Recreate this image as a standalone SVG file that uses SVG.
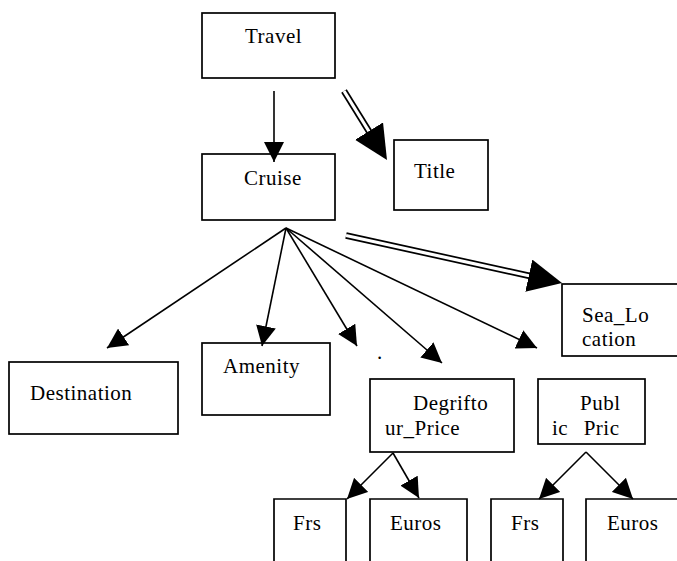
<svg xmlns="http://www.w3.org/2000/svg" width="677" height="561" viewBox="0 0 677 561">
<style>
.box{fill:#fff;stroke:#000;stroke-width:1.7}
.t{font-family:'Liberation Serif','Times New Roman',serif;font-size:21px;letter-spacing:0.5px;fill:#000}
.c{stroke:#000;stroke-width:1.6;fill:none}
.dbo{stroke:#000;stroke-width:6.6;fill:none}
.dbi{stroke:#fff;stroke-width:3.2;fill:none}
.hd{stroke:none;fill:none}
</style>
<defs>
<marker id="ah" markerUnits="userSpaceOnUse" markerWidth="20" markerHeight="20" viewBox="0 0 20 20" refX="20" refY="10" orient="auto">
<path d="M0,0 L20,10 L0,20 z" fill="#000"/>
</marker>
<marker id="big" markerUnits="userSpaceOnUse" markerWidth="34" markerHeight="33" viewBox="0 0 34 33" refX="34" refY="16.5" orient="auto">
<path d="M0,0 L34,16.5 L0,33 z" fill="#000"/>
</marker>
</defs>
<rect width="677" height="561" fill="#fff"/>
<g id="travel"><rect class="box" x="202" y="13" width="133" height="65"/><text class="t" x="245" y="43">Travel</text></g>
<g id="cruise"><rect class="box" x="202" y="154" width="133" height="66"/><text class="t" x="244" y="185">Cruise</text></g>
<g id="title"><rect class="box" x="394" y="140" width="94" height="70"/><text class="t" x="414" y="178">Title</text></g>
<g id="destination"><rect class="box" x="9" y="362" width="169" height="72"/><text class="t" x="30" y="400">Destination</text></g>
<g id="amenity"><rect class="box" x="202" y="343" width="128" height="72"/><text class="t" x="223" y="373">Amenity</text></g>
<g id="sealocation"><rect class="box" x="562" y="284" width="116" height="72"/><text class="t" x="582" y="322">Sea_Lo</text><text class="t" x="582" y="346">cation</text></g>
<g id="degriftour"><rect class="box" x="370" y="379" width="144" height="73"/><text class="t" x="413" y="410">Degrifto</text><text class="t" x="385" y="435">ur_Price</text></g>
<g id="public"><rect class="box" x="538" y="379" width="107" height="65"/><text class="t" x="580" y="410">Publ</text><text class="t" x="552" y="435" xml:space="preserve" style="white-space:pre;word-spacing:2px">ic  Pric</text></g>
<g id="frs1"><path class="box" d="M274,562 V499 H346 V562"/><text class="t" x="293" y="530">Frs</text></g>
<g id="euros1"><path class="box" d="M370,562 V499 H467 V562"/><text class="t" x="390" y="530">Euros</text></g>
<g id="frs2"><path class="box" d="M491,562 V499 H563 V562"/><text class="t" x="511" y="530">Frs</text></g>
<g id="euros2"><path class="box" d="M586,562 V499 H678 V562"/><text class="t" x="607" y="530">Euros</text></g>
<text class="t" x="377" y="359">.</text>
<g id="connectors">
<line class="c" x1="274" y1="91" x2="274" y2="162" marker-end="url(#ah)"/>
<line class="c" x1="286" y1="228" x2="107" y2="348" marker-end="url(#ah)"/>
<line class="c" x1="286" y1="228" x2="262" y2="346" marker-end="url(#ah)"/>
<line class="c" x1="286" y1="228" x2="357" y2="346" marker-end="url(#ah)"/>
<line class="c" x1="286" y1="228" x2="442" y2="363" marker-end="url(#ah)"/>
<line class="c" x1="286" y1="228" x2="537" y2="348" marker-end="url(#ah)"/>
<line class="c" x1="393" y1="453" x2="347" y2="499" marker-end="url(#ah)"/>
<line class="c" x1="393" y1="453" x2="419" y2="498" marker-end="url(#ah)"/>
<line class="c" x1="586" y1="452" x2="539" y2="499" marker-end="url(#ah)"/>
<line class="c" x1="586" y1="452" x2="633" y2="499" marker-end="url(#ah)"/>
<line class="dbo" x1="344" y1="91" x2="370" y2="133"/>
<line class="dbi" x1="344" y1="91" x2="370" y2="133"/>
<line class="hd" x1="344" y1="91" x2="387" y2="160" marker-end="url(#big)"/>
<line class="dbo" x1="346" y1="235.5" x2="530" y2="276"/>
<line class="dbi" x1="346" y1="235.5" x2="530" y2="276"/>
<line class="hd" x1="346" y1="235.5" x2="562" y2="283" marker-end="url(#big)"/>
</g>
</svg>
